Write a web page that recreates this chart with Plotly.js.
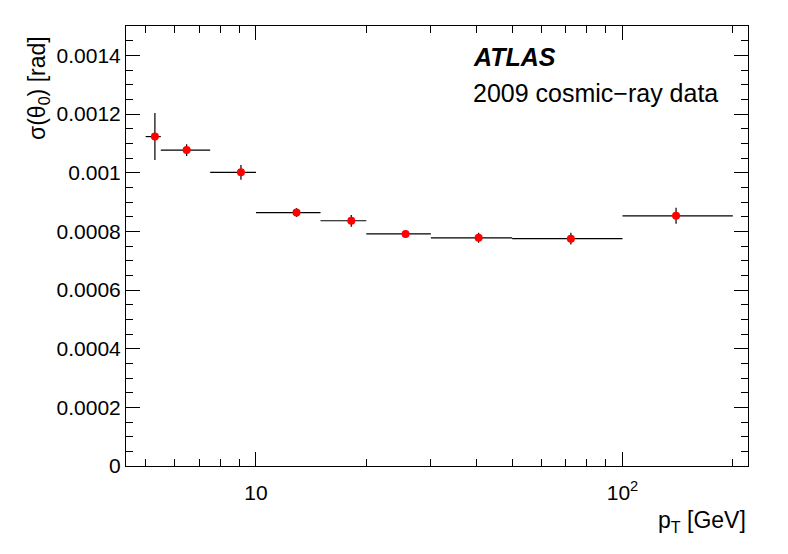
<!DOCTYPE html>
<html>
<head>
<meta charset="utf-8">
<script src="https://cdn.plot.ly/plotly-3.0.1.min.js"></script>
<style>body{margin:0;background:#fff;} #plot{width:788px;height:554px;}</style>
</head>
<body>
<div id="plot"></div>
<script>
// pT bin centres and edges (GeV)
var pt = [5.3, 6.47, 9.1, 12.9, 18.2, 25.6, 40.5, 72.3, 140];
var binLow = [5.0, 5.5, 7.5, 10, 15, 20, 30, 50, 100];
var binHigh = [5.5, 7.5, 10, 15, 20, 30, 50, 100, 200];
// sigma(theta0) in rad and its error
var sigma = [0.001123, 0.001077, 0.001001, 0.000864, 0.000836, 0.000791, 0.000778, 0.000775, 0.000853];
var sigmaErr = [0.000080, 0.000020, 0.000025, 0.000015, 0.000020, 0.000013, 0.000017, 0.000020, 0.000027];

var xPlus = pt.map((v, i) => binHigh[i] - v);
var xMinus = pt.map((v, i) => v - binLow[i]);

var trace = {
  x: pt,
  y: sigma,
  type: "scatter",
  mode: "markers",
  marker: {color: "#ff0000", size: 8},
  error_x: {type: "data", symmetric: false, array: xPlus, arrayminus: xMinus,
            color: "#000", thickness: 1.2, width: 0},
  error_y: {type: "data", array: sigmaErr, color: "#000", thickness: 1.2, width: 0},
  showlegend: false
};

var fam = "Liberation Sans, Arial, sans-serif";
var font = {family: fam, size: 21, color: "#000"};
var titleFont = {family: fam, size: 23, color: "#000"};

var layout = {
  width: 788,
  height: 554,
  margin: {l: 126, r: 40, t: 26, b: 88},
  paper_bgcolor: "#fff",
  plot_bgcolor: "#fff",
  font: font,
  xaxis: {
    type: "log",
    range: [Math.log10(4.42), Math.log10(220)],
    tickmode: "array",
    tickvals: [10, 100],
    ticktext: ["10", "10<sup>2</sup>"],
    ticks: "inside",
    ticklen: 14,
    tickcolor: "#000",
    ticklabelstandoff: 8,
    minor: {tickmode: "array", tickvals: [5, 6, 7, 8, 9, 20, 30, 40, 50, 60, 70, 80, 90, 200],
            ticks: "inside", ticklen: 7, tickcolor: "#000"},
    showline: true,
    linecolor: "#000",
    linewidth: 1,
    mirror: "ticks",
    showgrid: false,
    zeroline: false,
    tickfont: font
  },
  yaxis: {
    range: [0, 0.0015],
    tick0: 0,
    dtick: 0.0002,
    exponentformat: "none",
    ticks: "inside",
    ticklen: 14,
    tickcolor: "#000",
    minor: {dtick: 0.00005, ticks: "inside", ticklen: 7, tickcolor: "#000"},
    showline: true,
    linecolor: "#000",
    linewidth: 1,
    mirror: "ticks",
    showgrid: false,
    zeroline: false,
    tickfont: font
  },
  annotations: [
    {xref: "paper", yref: "paper", x: 0.554, y: 0.93, xanchor: "left", yanchor: "middle",
     text: "<b><i>ATLAS</i></b>", showarrow: false,
     font: {family: fam, size: 25, color: "#000"}},
    {xref: "paper", yref: "paper", x: 0.554, y: 0.848, xanchor: "left", yanchor: "middle",
     text: "2009 cosmic\u2212ray data", showarrow: false,
     font: {family: fam, size: 25, color: "#000"}},
    {xref: "paper", yref: "paper", x: -0.1415, y: 0.859, xanchor: "center", yanchor: "middle",
     textangle: -90, text: "\u03c3(\u03b8<sub>0</sub>) [rad]", showarrow: false, font: titleFont},
    {xref: "paper", yref: "paper", x: 1, y: -0.127, xanchor: "right", yanchor: "middle",
     text: "p<sub>T</sub> [GeV]", showarrow: false, font: titleFont}
  ]
};

Plotly.newPlot("plot", [trace], layout, {displayModeBar: false, staticPlot: true});
</script>
</body>
</html>
